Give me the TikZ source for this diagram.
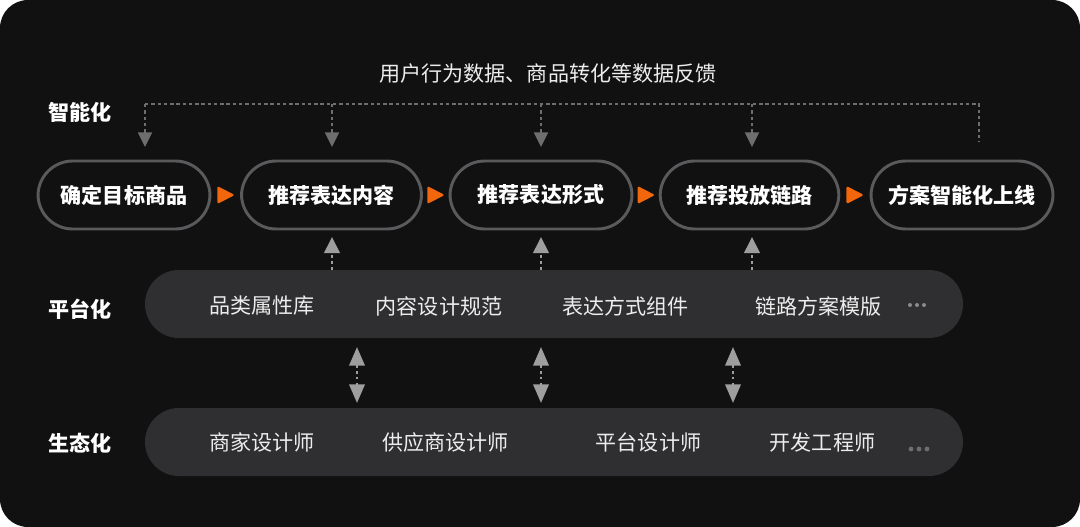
\documentclass[tikz,border=0pt]{standalone}
\usepackage{fontspec}
\newfontfamily\cjk{Noto Sans CJK SC}
\usetikzlibrary{arrows.meta,calc}
\definecolor{bg}{HTML}{121112}
\definecolor{pillborder}{HTML}{5A595B}
\definecolor{band}{HTML}{2F2E30}
\definecolor{accent}{HTML}{F2660C}
\definecolor{fbgray}{HTML}{6E6E6E}
\definecolor{upgray}{HTML}{9E9E9E}
\definecolor{dotgray}{HTML}{8A8A8A}
\definecolor{bandtext}{HTML}{EDEDED}
\begin{document}
\begin{tikzpicture}[x=0.75pt,y=-0.75pt,
  stage/.style={draw=pillborder, line width=2.2pt, fill=bg, rounded corners=26pt,
    minimum height=51pt, inner sep=0pt, text=white,
    font=\cjk\bfseries\fontsize{15.8}{18}\selectfont},
  bandbox/.style={fill=band, rounded corners=25.5pt, minimum height=51pt,
    minimum width=613.5pt, inner sep=0pt},
  bandlabel/.style={text=bandtext, inner sep=0pt, font=\cjk\fontsize{15.8}{18}\selectfont},
  rowlabel/.style={text=white, inner sep=0pt, font=\cjk\bfseries\fontsize{15.8}{18}\selectfont},
  fbline/.style={draw=fbgray, line width=1.5pt, dash pattern=on 2.6pt off 2.1pt},
  fbtip/.style={-{Triangle[width=10.5pt,length=11pt,fill=fbgray,color=fbgray]}},
  upline/.style={draw=upgray, line width=2pt, dash pattern=on 2pt off 2.4pt},
  uptip/.style={-{Triangle[width=11.5pt,length=12pt,fill=upgray,color=upgray]}},
  dbltip/.style={{Triangle[width=11.5pt,length=14pt,fill=upgray,color=upgray]}-{Triangle[width=11.5pt,length=14pt,fill=upgray,color=upgray]}},
]
\fill[white] (0,0) rectangle (1080,527);
\fill[bg, rounded corners=21pt] (0,0) rectangle (1080,527);
\useasboundingbox (0,0) rectangle (1080,527);

% title
\node[text=bandtext, inner sep=0pt, font=\cjk\fontsize{15.8}{18}\selectfont] (title) at (548,74) {用户行为数据、商品转化等数据反馈};

% row labels
\node[rowlabel] (l1) at (80,112) {智能化};
\node[rowlabel] (l2) at (80,309) {平台化};
\node[rowlabel] (l3) at (80,443) {生态化};

% stages
\node[stage, minimum width=129pt] (s1) at (124,195) {确定目标商品};
\node[stage, minimum width=135pt] (s2) at (331.5,195) {推荐表达内容};
\node[stage, minimum width=136.5pt] (s3) at (541,195) {推荐表达形式};
\node[stage, minimum width=134pt] (s4) at (749.5,195) {推荐投放链路};
\node[stage, minimum width=136.5pt] (s5) at (962,195) {方案智能化上线};

% orange triangles between stages
\foreach \a/\b in {s1/s2,s2/s3,s3/s4,s4/s5}{
  \coordinate (m\a) at ($(\a.east)!0.5!(\b.west)$);
  \fill[accent, rounded corners=1.6pt] ($(m\a)+(-8.5,-9)$) -- ($(m\a)+(9,0)$) -- ($(m\a)+(-8.5,9)$) -- cycle;
}

% feedback loop
\coordinate (f1) at (145,104);
\coordinate (f2) at (332,104);
\coordinate (f3) at (541,104);
\coordinate (f4) at (752,104);
\coordinate (f5) at (979,104);
\coordinate (f5b) at (979,142);
\draw[fbline] (f1) -- (f5) -- (f5b);
\draw[fbline, fbtip] (f1) -- (145,147);
\draw[fbline, fbtip] (f2) -- (332,147);
\draw[fbline, fbtip] (f3) -- (541,147);
\draw[fbline, fbtip] (f4) -- (752,147);

% bands
\node[bandbox] (plat) at (554,304) {};
\node[bandbox] (eco) at (554,442) {};

\node[bandlabel] (p1) at (262,306) {品类属性库};
\node[bandlabel] (p2) at (439,306) {内容设计规范};
\node[bandlabel] (p3) at (625.5,306) {表达方式组件};
\node[bandlabel] (p4) at (818.5,306) {链路方案模版};
\foreach \x in {910,917,924}{\fill[dotgray] (\x,305) circle (1.5pt);}

\node[bandlabel] (e1) at (262,442) {商家设计师};
\node[bandlabel] (e2) at (445.5,442) {供应商设计师};
\node[bandlabel] (e3) at (648.5,442) {平台设计师};
\node[bandlabel] (e4) at (822.5,442) {开发工程师};
\foreach \x in {911,919,927}{\fill[fbgray] (\x,449) circle (1.8pt);}

% up arrows platform -> stages
\foreach \x in {332,541,752}{
  \draw[upline, uptip] (\x,270 |- plat.north) -- (\x,237);
}

% double arrows platform <-> ecosystem
\foreach \x in {357,541,733}{
  \draw[upline, dbltip] (\x,347) -- (\x,403);
}
\end{tikzpicture}
\end{document}
